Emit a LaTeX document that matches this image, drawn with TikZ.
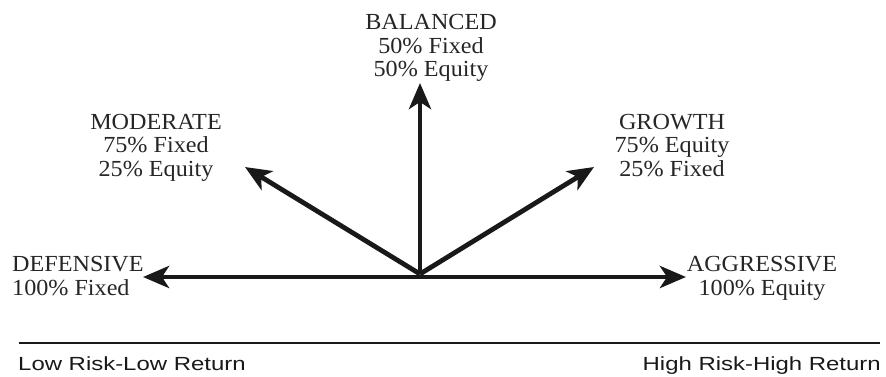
\documentclass[tikz,border=0pt]{standalone}
\usepackage{fontspec}
\setmainfont{Liberation Serif}
\newfontfamily\lblfont[FakeStretch=1.05]{Liberation Serif}
\newfontfamily\riskfont[FakeStretch=1.26]{Liberation Sans}
\usetikzlibrary{arrows.meta}
\begin{document}
\begin{tikzpicture}[x=1pt,y=-1pt,
  dirarrow/.style={line width=4.8pt,draw=black!90,-{Stealth[length=26pt,width=22pt,inset=7pt]}},
  lbl/.style={font=\lblfont\fontsize{23}{23.5}\selectfont,text=black!85,inner sep=0pt,align=center,anchor=base},
  risk/.style={font=\riskfont\fontsize{19}{20}\selectfont,text=black!90,inner sep=0pt,anchor=base}]
\useasboundingbox (0,0) rectangle (886,377);
\coordinate (o) at (420,277);
\coordinate (oc) at (420,274);
\coordinate (tl) at (143,277);
\coordinate (tr) at (686,277);
\coordinate (tu) at (420,83);
\coordinate (tml) at (245,167);
\coordinate (tmr) at (594,167);
\draw[dirarrow] (o) -- (tl);
\draw[dirarrow] (o) -- (tr);
\draw[dirarrow] (oc) -- (tu);
\draw[dirarrow] (oc) -- (tml);
\draw[dirarrow] (oc) -- (tmr);
\node[lbl,anchor=base west,align=left] (def) at (12,295) {DEFENSIVE\\100\% Fixed};
\node[lbl] (agg) at (762,295) {AGGRESSIVE\\100\% Equity};
\node[lbl] (mod) at (156,176) {MODERATE\\75\% Fixed\\25\% Equity};
\node[lbl] (gro) at (672,176) {GROWTH\\75\% Equity\\25\% Fixed};
\node[lbl] (bal) at (431,77) {BALANCED\\50\% Fixed\\50\% Equity};
\coordinate (bl) at (19,343);
\coordinate (br) at (880,343);
\draw[line width=2pt,black!90] (bl) -- (br);
\node[risk,anchor=base west] (low) at (18,370) {Low Risk-Low Return};
\node[risk,anchor=base east] (high) at (881,370) {High Risk-High Return};
\end{tikzpicture}
\end{document}
